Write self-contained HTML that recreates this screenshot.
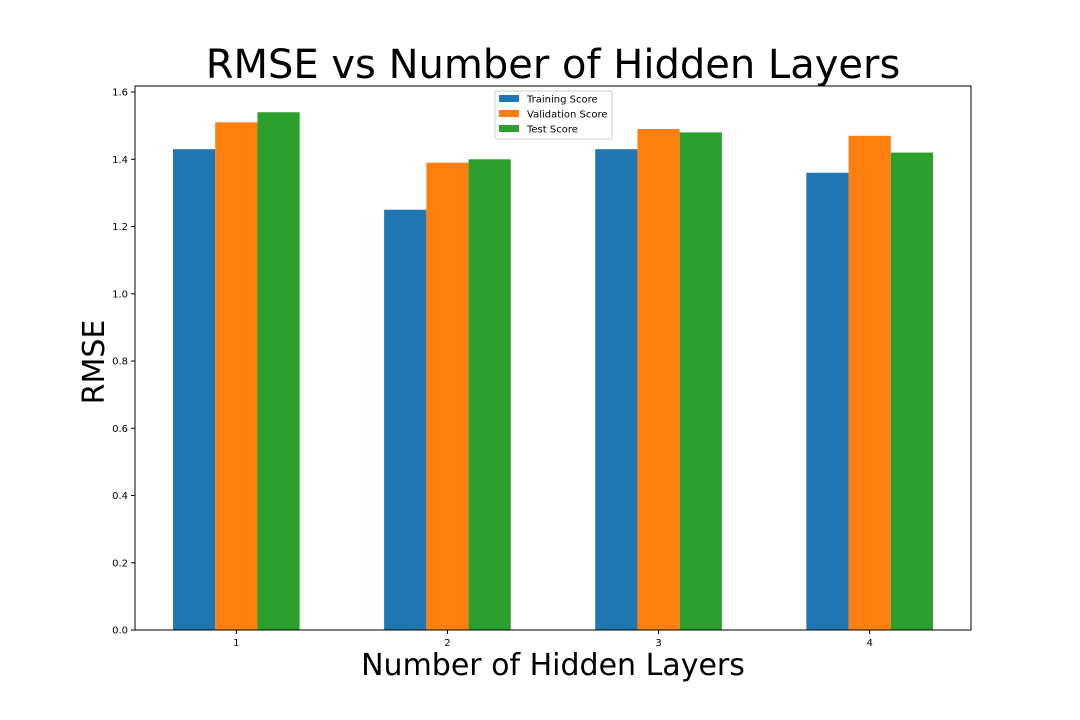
<!DOCTYPE html>
<html><head><meta charset="utf-8"><style>
body{margin:0;background:#fff;}
svg{display:block;font-family:"DejaVu Sans","Liberation Sans",sans-serif;}
</style></head><body>
<svg id="chart" width="1080" height="720">
<rect width="1080" height="720" fill="#fff"/>
<text x="553" y="78" font-size="40" text-anchor="middle">RMSE vs Number of Hidden Layers</text>
<text x="553" y="675" font-size="30" text-anchor="middle">Number of Hidden Layers</text>
<text transform="translate(104,362) rotate(-90)" font-size="30" text-anchor="middle">RMSE</text>
<g id="bars"></g>
<g id="axes"></g>
<g id="legend"></g>
</svg>
<script>
const categories=[1,2,3,4];
const seriesNames=["Training Score","Validation Score","Test Score"];
const training=[1.43,1.25,1.43,1.36];
const validation=[1.51,1.39,1.49,1.47];
const test=[1.54,1.40,1.48,1.42];
const yTicks=[0.0,0.2,0.4,0.6,0.8,1.0,1.2,1.4,1.6];
const colors=["#1f77b4","#ff7f0e","#2ca02c"];
const NS="http://www.w3.org/2000/svg";
const L=135,R=971,T=86,B=630;
const xMin=0.52,xMax=4.48,yMin=0,yMax=1.618;
const xs=v=>L+(v-xMin)/(xMax-xMin)*(R-L);
const ys=v=>B-(v-yMin)/(yMax-yMin)*(B-T);
function mk(tag,attrs,parent){const e=document.createElementNS(NS,tag);for(const k in attrs)e.setAttribute(k,attrs[k]);parent.appendChild(e);return e;}
const bars=document.getElementById('bars'),axes=document.getElementById('axes'),leg=document.getElementById('legend');
const series=[training,validation,test];
const bw=0.2;
series.forEach((s,si)=>{s.forEach((v,i)=>{
 const x0=xs(categories[i]+(si-1.5)*bw),x1=xs(categories[i]+(si-0.5)*bw);
 const r=mk('rect',{x:x0,y:ys(v),width:x1-x0,height:ys(0)-ys(v),fill:colors[si]},bars);
 
 
});});
const frame=mk('rect',{x:L,y:T,width:R-L,height:B-T,fill:'none',stroke:'#000','stroke-width':1},axes);


yTicks.forEach(t=>{const y=ys(t);
 mk('line',{x1:L-4,x2:L,y1:y,y2:y,stroke:'#000'},axes);
 const tx=mk('text',{x:L-7,y:y+3.5,'font-size':10,'text-anchor':'end'},axes);tx.textContent=t.toFixed(1);
 
 
});
categories.forEach(c=>{const x=xs(c);
 mk('line',{x1:x,x2:x,y1:B,y2:B+4,stroke:'#000'},axes);
 const tx=mk('text',{x:x,y:B+16,'font-size':10,'text-anchor':'middle'},axes);tx.textContent=c;
 
 
});
mk('rect',{x:495,y:91,width:117,height:48,fill:'#fff',stroke:'#ccc',rx:2},leg);
seriesNames.forEach((n,i)=>{const y=95+i*15;
 mk('rect',{x:499,y:y,width:20,height:7,fill:colors[i]},leg);
 const tx=mk('text',{x:527,y:y+7.5,'font-size':10},leg);tx.textContent=n;
 
 
});
</script>
</body></html>
